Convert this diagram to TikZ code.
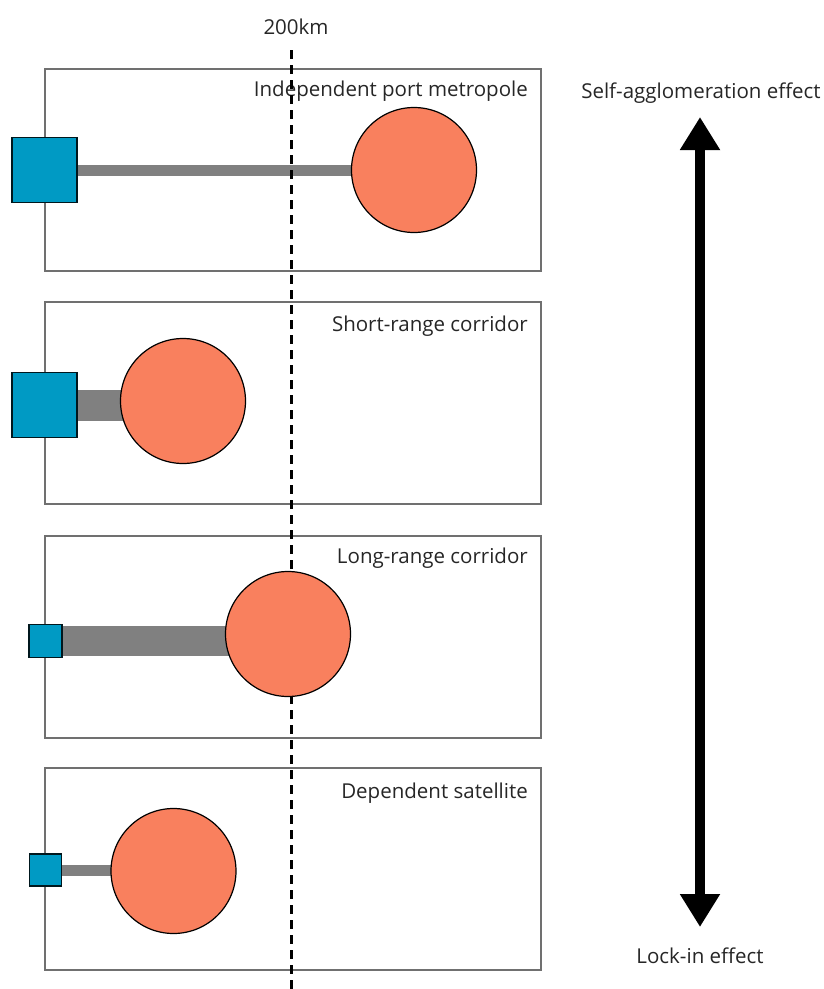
\documentclass[tikz,border=0pt]{standalone}
\usepackage{fontspec}
\setmainfont{Open Sans}
\usetikzlibrary{positioning, arrows.meta, backgrounds}
\usepackage{xcolor}
\definecolor{portblue}{RGB}{0,154,196}
\definecolor{cityred}{RGB}{249,128,94}
\definecolor{bargray}{RGB}{128,128,128}
\definecolor{framegray}{RGB}{112,112,112}

\begin{document}
\begin{tikzpicture}[x=1pt, y=-1pt]
    % Definitions
    \def\panelL{45}
    \def\panelR{541}
    \def\panelH{202}
    \def\kmX{291}

    % Styles
    \tikzstyle{frame} = [draw=framegray, line width=2pt]
    \tikzstyle{port} = [draw=black!85!portblue, fill=portblue, line width=1.2pt, inner sep=0pt]
    \tikzstyle{city} = [circle, draw=black, fill=cityred, line width=1.2pt, minimum size=125pt, inner sep=0pt]
    \tikzstyle{bar} = [draw=bargray]
    \tikzstyle{caption} = [anchor=east, inner sep=0pt, text=black!85, font=\fontsize{20.5}{24}\selectfont]
    \tikzstyle{limit} = [draw, black, line width=3pt, dash pattern=on 9pt off 6pt]
    \tikzstyle{effect} = [draw, black, line width=10pt, {Triangle[width=38pt, length=33pt]}-{Triangle[width=38pt, length=33pt]}]

    \useasboundingbox (0,0) rectangle (823,989);

    % Panel titles
    \node[caption] (t1) at (528,91) {Independent port metropole};
    \node[caption] (t2) at (528,326) {Short-range corridor};
    \node[caption] (t3) at (528,558) {Long-range corridor};
    \node[caption] (t4) at (528,793) {Dependent satellite};

    % 200km limit
    \node[caption, anchor=center] (km) at (296,27) {200km};
    \coordinate (kmtop) at (\kmX,50);
    \coordinate (kmbot) at (\kmX,989);
    \draw[limit] (kmtop) -- (kmbot);

    % Ports and cities
    \node[port, minimum size=65pt] (p1) at (44.5,170) {};
    \node[city] (c1) at (414,170) {};
    \node[port, minimum size=65pt] (p2) at (44.5,405) {};
    \node[city] (c2) at (183,401) {};
    \node[port, minimum size=33pt] (p3) at (45.5,641) {};
    \node[city] (c3) at (288,634) {};
    \node[port, minimum size=32pt] (p4) at (45.5,870) {};
    \node[city] (c4) at (173.5,871) {};

    % Frames and links, behind
    \begin{scope}[on background layer]
        \foreach \top in {69, 302, 536, 768} {
            \draw[frame] (\panelL,\top) rectangle (\panelR,\top+\panelH);
        }
        \draw[bar, line width=11pt] (p1) -- (p1 -| c1);
        \draw[bar, line width=31pt] (p2) -- (p2 -| c2);
        \draw[bar, line width=30pt] (p3) -- (p3 -| c3);
        \draw[bar, line width=11pt] (p4) -- (p4 -| c4);
    \end{scope}

    % Effects
    \node[caption, anchor=center] (self) at (701,93) {Self-agglomeration effect};
    \node[caption, anchor=center] (lock) at (700,956) {Lock-in effect};
    \coordinate (up) at (700,117);
    \coordinate (down) at (700,927);
    \draw[effect] (up) -- (down);

\end{tikzpicture}
\end{document}
